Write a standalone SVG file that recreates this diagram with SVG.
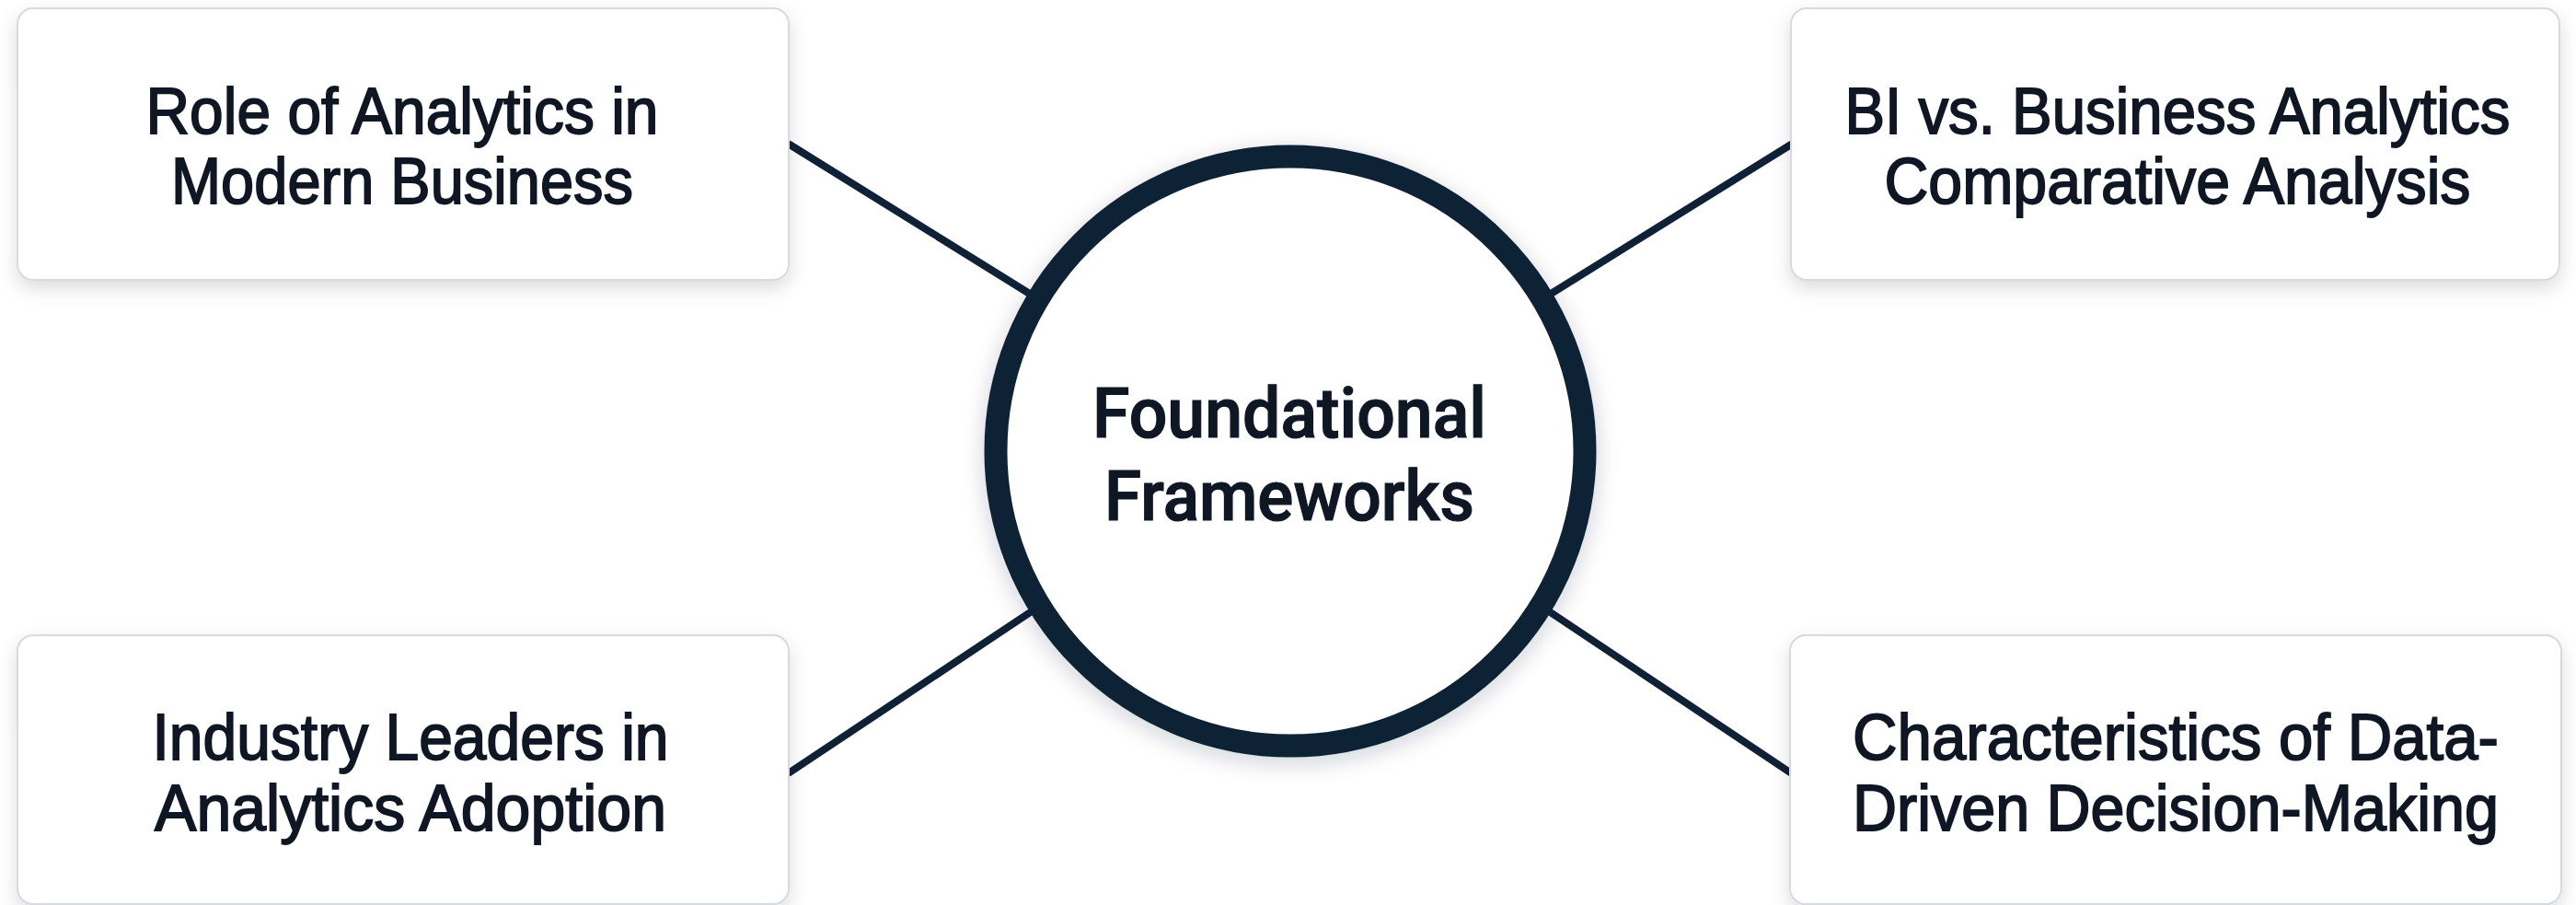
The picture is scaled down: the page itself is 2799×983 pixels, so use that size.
<svg xmlns="http://www.w3.org/2000/svg" width="2799" height="983" viewBox="0 0 2799 983">
  <defs>
    <filter id="boxShadow" x="-10%" y="-10%" width="120%" height="130%">
      <feDropShadow dx="0" dy="8" stdDeviation="10" flood-color="#000000" flood-opacity="0.14"/>
    </filter>
    <filter id="circleShadow" x="-20%" y="-20%" width="140%" height="140%">
      <feDropShadow dx="0" dy="6" stdDeviation="12" flood-color="#0f2136" flood-opacity="0.2"/>
    </filter>
  </defs>
  <style>
    .box { fill: #ffffff; stroke: #d6d9de; stroke-width: 2; filter: url(#boxShadow); }
    .label { font-family: "Liberation Sans", Arial, sans-serif; font-size: 70px; fill: #0f1724; stroke: #0f1724; stroke-width: 1.8; text-anchor: middle; }
    .center { font-family: Roboto, "Liberation Sans", sans-serif; font-weight: 500; font-size: 76px; fill: #0f1724; stroke: #0f1724; stroke-width: 1.2; text-anchor: middle; }
    .conn { stroke: #0f2136; stroke-width: 8; stroke-linecap: round; fill: none; }
    .hub { fill: #ffffff; stroke: #0f2136; stroke-width: 25; filter: url(#circleShadow); }
  </style>
  <rect width="2799" height="983" fill="#ffffff"/>

  <g id="connectors">
    <line class="conn" x1="858" y1="157" x2="1130" y2="326"/>
    <line class="conn" x1="1946" y1="157" x2="1674" y2="326"/>
    <line class="conn" x1="858" y1="839" x2="1130" y2="658"/>
    <line class="conn" x1="1945" y1="839" x2="1674" y2="658"/>
  </g>

  <g id="node-center">
    <circle class="hub" cx="1402" cy="490" r="320"/>
    <text class="center" x="1401" y="475" textLength="428" lengthAdjust="spacingAndGlyphs">Foundational</text>
    <text class="center" x="1401" y="565" textLength="402" lengthAdjust="spacingAndGlyphs">Frameworks</text>
  </g>

  <g id="node-role">
    <rect class="box" x="19" y="9" width="838" height="295" rx="17"/>
    <text class="label" x="437" y="145" textLength="557" lengthAdjust="spacingAndGlyphs">Role of Analytics in</text>
    <text class="label" x="437" y="221" textLength="502" lengthAdjust="spacingAndGlyphs">Modern Business</text>
  </g>

  <g id="node-bi">
    <rect class="box" x="1946" y="9" width="835" height="295" rx="17"/>
    <text class="label" x="2366" y="145" textLength="723" lengthAdjust="spacingAndGlyphs">BI vs. Business Analytics</text>
    <text class="label" x="2366" y="221" textLength="637" lengthAdjust="spacingAndGlyphs">Comparative Analysis</text>
  </g>

  <g id="node-leaders">
    <rect class="box" x="19" y="690" width="838" height="292" rx="17"/>
    <text class="label" x="446" y="825" textLength="561" lengthAdjust="spacingAndGlyphs">Industry Leaders in</text>
    <text class="label" x="446" y="902" textLength="556" lengthAdjust="spacingAndGlyphs">Analytics Adoption</text>
  </g>

  <g id="node-characteristics">
    <rect class="box" x="1945" y="690" width="838" height="292" rx="17"/>
    <text class="label" x="2364" y="825" textLength="702" lengthAdjust="spacingAndGlyphs">Characteristics of Data-</text>
    <text class="label" x="2364" y="902" textLength="702" lengthAdjust="spacingAndGlyphs">Driven Decision-Making</text>
  </g>
</svg>
